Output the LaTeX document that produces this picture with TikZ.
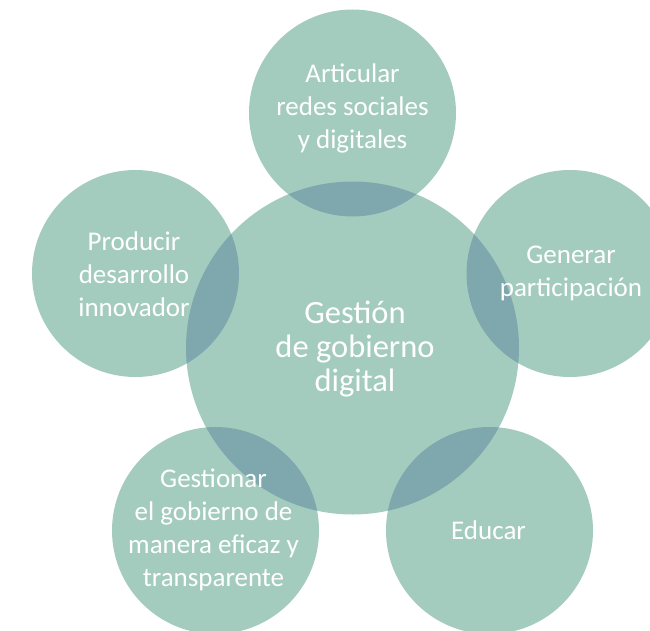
\documentclass[tikz,border=0pt]{standalone}
\usepackage{fontspec}
\setmainfont{Carlito}
\definecolor{verde}{HTML}{A4CCBE}
\definecolor{cruce}{HTML}{7FA8AE}
\newcommand\disconode[1]{node[circle, fill=verde, inner sep=0pt, outer sep=0pt, minimum size=#1] {}}
\newcommand\textonode[2]{node[text=white, align=center, inner sep=0pt, font=\fontsize{#2}{33}\selectfont] {#1}}

\begin{document}
\begin{tikzpicture}[x=1pt, y=-1pt]
    \useasboundingbox (0,0) rectangle (650,631);
    \clip (0,0) rectangle (650,631);

    % Круги
    \path
        (352.5,348) \disconode{333pt} coordinate (centro)
        (352.5,113) \disconode{207pt} coordinate (arriba)
        (135.5,273.5) \disconode{207pt} coordinate (izq)
        (570,273.5) \disconode{207pt} coordinate (der)
        (215.5,530.5) \disconode{207pt} coordinate (abizq)
        (489.5,530.5) \disconode{207pt} coordinate (abder);

    % Пересечения
    \begin{scope}
        \clip (centro) circle[radius=166.5pt];
        \foreach \c in {arriba, izq, der, abizq, abder}
            \fill[cruce] (\c) circle[radius=103.5pt];
    \end{scope}

    % Текстовые подписи
    \path
        (352.5,108.5) \textonode{Articular\\redes sociales\\y digitales}{27}
        (134,274.5) \textonode{Producir\\desarrollo\\innovador}{27}
        (571,273.5) \textonode{Generar\\participación}{27}
        (213.5,529.5) \textonode{Gestionar\\el gobierno de\\manera eficaz y\\transparente}{27}
        (488.5,530.5) \textonode{Educar}{27}
        (355,349) node[text=white, align=center, inner sep=0pt, font=\fontsize{32.5}{34}\selectfont] {Gestión\\de gobierno\\digital};
\end{tikzpicture}
\end{document}
